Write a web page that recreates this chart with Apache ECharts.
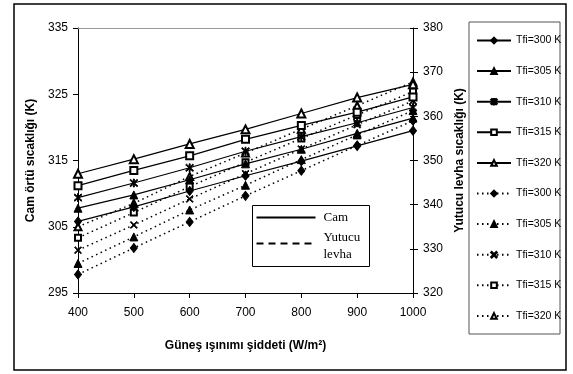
<!DOCTYPE html>
<html>
<head>
<meta charset="utf-8">
<script src="https://cdn.jsdelivr.net/npm/echarts@6/dist/echarts.min.js"></script>
<style>
  html, body { margin: 0; padding: 0; background: #fff; }
  #chart { width: 573px; height: 374px; }
</style>
</head>
<body>
<div id="chart"></div>
<script>
// Güneş ışınımı şiddeti (W/m2)
const irradiance = [400, 500, 600, 700, 800, 900, 1000]
const tfiLabels = ['Tfi=300 K', 'Tfi=305 K', 'Tfi=310 K', 'Tfi=315 K', 'Tfi=320 K']

// Cam örtü sıcaklığı (K) - sol eksen
const cam300 = [305.8, 308.0, 310.4, 312.7, 314.9, 317.2, 319.5]
const cam305 = [307.8, 309.8, 312.1, 314.5, 316.7, 319.1, 321.4]
const cam310 = [309.4, 311.6, 313.9, 316.4, 318.6, 320.7, 323.0]
const cam315 = [311.2, 313.5, 315.7, 318.2, 320.3, 322.3, 324.6]
const cam320 = [313.0, 315.2, 317.5, 319.7, 322.1, 324.5, 326.5]

// Yutucu levha sıcaklığı (K) - sağ eksen
const levha300 = [324.2, 330.2, 336.1, 342.0, 347.7, 353.4, 359.0]
const levha305 = [326.7, 332.7, 338.8, 344.4, 350.2, 355.8, 361.3]
const levha310 = [329.7, 335.4, 341.3, 347.0, 352.6, 358.1, 363.5]
const levha315 = [332.5, 338.2, 344.1, 349.6, 355.0, 360.3, 365.6]
const levha320 = [335.0, 340.3, 346.4, 351.7, 357.1, 362.4, 367.8]

const leftTicks = { min: 295, max: 335, interval: 10 }
const rightTicks = { min: 320, max: 380, interval: 10 }

const camData = [cam300, cam305, cam310, cam315, cam320]
const levhaData = [levha300, levha305, levha310, levha315, levha320]

// işaretçiler
const xPath = 'path://M0,1 L1,0 L5,4 L9,0 L10,1 L6,5 L10,9 L9,10 L5,6 L1,10 L0,9 L4,5 Z'
const starPath = 'path://M0,1 L1,0 L5,4 L9,0 L10,1 L6,5 L10,9 L9,10 L5,6 L1,10 L0,9 L4,5 Z M4.4,-0.5 L5.6,-0.5 L5.6,10.5 L4.4,10.5 Z'
const camSymbols = [
  { symbol: 'diamond', size: [7, 9] },
  { symbol: 'triangle', size: 8 },
  { symbol: starPath, size: 8 },
  { symbol: 'emptyRect', size: 7 },
  { symbol: 'emptyTriangle', size: 8 }
]
const levhaSymbols = [
  { symbol: 'diamond', size: [7, 9] },
  { symbol: 'triangle', size: 8 },
  { symbol: xPath, size: 7 },
  { symbol: 'emptyRect', size: 6 },
  { symbol: 'emptyTriangle', size: 7 }
]

const font = 'Liberation Sans, Arial, sans-serif'

const toPairs = arr => arr.map((v, i) => [irradiance[i], v])

const series = []
camData.forEach((d, i) => {
  series.push({
    name: tfiLabels[i],
    type: 'line',
    yAxisIndex: 0,
    data: toPairs(d),
    symbol: camSymbols[i].symbol,
    symbolSize: camSymbols[i].size,
    lineStyle: { color: '#000', width: 1.2, type: 'solid' },
    itemStyle: { color: '#000', borderColor: '#000', borderWidth: 1 },
    z: 3
  })
})
levhaData.forEach((d, i) => {
  series.push({
    name: tfiLabels[i] + ' ',
    type: 'line',
    yAxisIndex: 1,
    data: toPairs(d),
    symbol: levhaSymbols[i].symbol,
    symbolSize: levhaSymbols[i].size,
    lineStyle: { color: '#000', width: 1.5, type: [1.5, 3.5] },
    itemStyle: { color: '#000', borderColor: '#000', borderWidth: 1 },
    z: 2
  })
})

const chart = echarts.init(document.getElementById('chart'))

chart.setOption({
  animation: false,
  backgroundColor: '#fff',
  textStyle: { fontFamily: font, color: '#000' },
  grid: { left: 78, right: 160, top: 28, bottom: 81 },
  legend: {
    orient: 'vertical',
    left: 471,
    top: 30,
    itemWidth: 34,
    itemHeight: 7,
    itemGap: 19.6,
    data: series.map(s => s.name),
    formatter: name => name.trim(),
    textStyle: { fontFamily: font, fontSize: 10.5, color: '#000' }
  },
  xAxis: [
    {
      type: 'value',
      min: 400,
      max: 1000,
      interval: 100,
      name: 'Güneş ışınımı şiddeti (W/m²)',
      nameLocation: 'middle',
      nameGap: 47,
      nameTextStyle: { fontFamily: font, fontSize: 12, fontWeight: 'bold', color: '#000' },
      axisLine: { lineStyle: { color: '#000', width: 1 } },
      axisTick: { show: true, length: 5, lineStyle: { color: '#000' } },
      axisLabel: { margin: 14, fontSize: 12, color: '#000', fontFamily: font, formatter: v => String(v) },
      splitLine: { show: false }
    },
    {
      type: 'value',
      position: 'top',
      min: 400,
      max: 1000,
      axisLine: { show: true, lineStyle: { color: '#999', width: 1 } },
      axisTick: { show: false },
      axisLabel: { show: false },
      splitLine: { show: false }
    }
  ],
  yAxis: [
    {
      type: 'value',
      position: 'left',
      min: leftTicks.min,
      max: leftTicks.max,
      interval: leftTicks.interval,
      name: 'Cam örtü sıcaklığı (K)',
      nameLocation: 'middle',
      nameGap: 36,
      nameRotate: 90,
      nameTextStyle: { fontFamily: font, fontSize: 12, fontWeight: 'bold', color: '#000' },
      axisLine: { show: true, lineStyle: { color: '#000', width: 1 } },
      axisTick: { show: true, length: 5, lineStyle: { color: '#000' } },
      axisLabel: { margin: 10, fontSize: 12, color: '#000', fontFamily: font },
      splitLine: { show: false }
    },
    {
      type: 'value',
      position: 'right',
      min: rightTicks.min,
      max: rightTicks.max,
      interval: rightTicks.interval,
      name: 'Yutucu levha sıcaklığı (K)',
      nameLocation: 'middle',
      nameGap: 32,
      nameRotate: 90,
      nameTextStyle: { fontFamily: font, fontSize: 12, fontWeight: 'bold', color: '#000' },
      axisLine: { show: true, lineStyle: { color: '#000', width: 1 } },
      axisTick: { show: true, length: 5, lineStyle: { color: '#000' } },
      axisLabel: { margin: 10, fontSize: 12, color: '#000', fontFamily: font },
      splitLine: { show: false }
    },
    {
      // sağ eksende içe bakan çentikler
      type: 'value',
      position: 'right',
      min: rightTicks.min,
      max: rightTicks.max,
      interval: rightTicks.interval,
      axisLine: { show: false },
      axisTick: { show: true, inside: true, length: 3, lineStyle: { color: '#000' } },
      axisLabel: { show: false },
      splitLine: { show: false }
    }
  ],
  series: series,
  graphic: [
    {
      type: 'rect',
      shape: { x: 14, y: 4, width: 552, height: 366 },
      style: { fill: 'none', stroke: '#000', lineWidth: 1.5 },
      silent: true
    },
    {
      type: 'rect',
      shape: { x: 469, y: 22, width: 91, height: 312 },
      style: { fill: 'none', stroke: '#555', lineWidth: 1 },
      silent: true
    },
    {
      type: 'group',
      left: 252,
      top: 205,
      children: [
        { type: 'rect', shape: { x: 0, y: 0, width: 117, height: 61 }, style: { fill: '#fff', stroke: '#000', lineWidth: 1 } },
        { type: 'line', shape: { x1: 4, y1: 12, x2: 63, y2: 12 }, style: { stroke: '#000', lineWidth: 2 } },
        { type: 'text', x: 71, y: 12, style: { text: 'Cam', font: '13px "Liberation Serif", serif', fill: '#000', verticalAlign: 'middle' } },
        { type: 'line', shape: { x1: 4, y1: 38, x2: 63, y2: 38 }, style: { stroke: '#000', lineWidth: 2, lineDash: [7, 5] } },
        { type: 'text', x: 71, y: 32, style: { text: 'Yutucu', font: '13px "Liberation Serif", serif', fill: '#000', verticalAlign: 'middle' } },
        { type: 'text', x: 71, y: 49, style: { text: 'levha', font: '13px "Liberation Serif", serif', fill: '#000', verticalAlign: 'middle' } }
      ]
    }
  ]
})
</script>
</body>
</html>
